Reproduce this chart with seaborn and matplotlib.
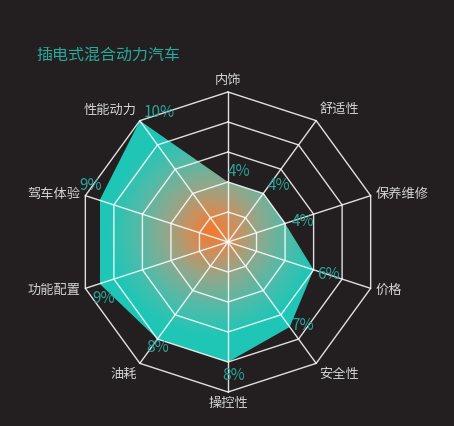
import numpy as np
import matplotlib
matplotlib.use("Agg")
import matplotlib.pyplot as plt
import seaborn as sns
from matplotlib.patches import Polygon
from matplotlib.colors import LinearSegmentedColormap

# chart data
title = "插电式混合动力汽车"
dimensions = ["内饰", "舒适性", "保养维修", "价格", "安全性",
              "操控性", "油耗", "功能配置", "驾车体验", "性能动力"]
shares = [4, 4, 4, 6, 7, 8, 8, 9, 9, 10]
max_share = 10
ring_count = 5

# style
bg = "#231f20"
teal = "#1fc6b6"
orange = "#f4782c"
label_teal = "#2aa398"
grad_stops = [(0.0, orange), (0.2, "#d08e5a"), (0.45, "#90a88c"),
              (0.75, "#4dbcab"), (1.0, teal)]
# pixel offsets of the percentage labels from their point
value_offsets = [(11, 10), (16, 8), (18, 2), (15, -5), (13, 1),
                 (6, -13), (0, -8), (4, -15), (-9, 15), (19, 8)]

sns.set_theme(style="dark", rc={"figure.facecolor": bg, "axes.facecolor": bg})
plt.rcParams["font.family"] = ["Noto Sans CJK SC", "DejaVu Sans"]

n = len(dimensions)
angles = np.arange(n) * 2 * np.pi / n
sx, sy = np.sin(angles), np.cos(angles)

fig = plt.figure(figsize=(4.54, 4.26), dpi=100)
ax = fig.add_axes([0, 0, 1, 1])
scale = 15.0  # pixels per unit
ax.set_xlim(-228 / scale, 226 / scale)
ax.set_ylim(-(426 - 242) / scale, 242 / scale)
ax.axis("off")

# gradient filled data polygon
px = np.array(shares) * sx
py = np.array(shares) * sy
poly = Polygon(np.column_stack([px, py]), closed=True, facecolor="none",
               edgecolor="none")
ax.add_patch(poly)
cx = (px.min() + px.max()) / 2 + 0.35
cy = (py.min() + py.max()) / 2 + 0.65
gx, gy = np.meshgrid(np.linspace(px.min(), px.max(), 400),
                     np.linspace(py.min(), py.max(), 400))
dist = np.hypot(gx - cx, gy - cy) / 7.0
cmap = LinearSegmentedColormap.from_list("grad", grad_stops)
img = ax.imshow(np.clip(dist, 0, 1), cmap=cmap, vmin=0, vmax=1, origin="lower",
                extent=(px.min(), px.max(), py.min(), py.max()),
                interpolation="bilinear", zorder=1, aspect="auto")
img.set_clip_path(poly)

# grid rings and spokes
line_kw = dict(sort=False, estimator=None, ax=ax, color="white", alpha=0.86,
               linewidth=1.0, zorder=2)
for k in range(1, ring_count + 1):
    r = max_share * k / ring_count
    sns.lineplot(x=np.append(r * sx, r * sx[0]), y=np.append(r * sy, r * sy[0]),
                 **line_kw)
for i in range(n):
    sns.lineplot(x=[0, max_share * sx[i]], y=[0, max_share * sy[i]], **line_kw)

# axis names
gap = 0.35
for i, name in enumerate(dimensions):
    ha = "left" if sx[i] > 0.01 else ("right" if sx[i] < -0.01 else "center")
    va = "bottom" if sy[i] > 0.5 else ("top" if sy[i] < -0.5 else "center")
    ax.text((max_share + gap) * sx[i], (max_share + gap) * sy[i], name,
            ha=ha, va=va, color="#d4d4d4", fontsize=9.5, zorder=3)

# percentage labels
for i, v in enumerate(shares):
    ax.annotate(f"{v}%", xy=(px[i], py[i]), xytext=value_offsets[i],
                textcoords="offset pixels", ha="center", va="center",
                color=label_teal, fontsize=11, zorder=4)

fig.text(36 / 454, 1 - 55 / 426, title, ha="left", va="center",
         color="#27a99c", fontsize=11.5, fontweight="medium")

fig.savefig("out.png", dpi=100, facecolor=bg)
